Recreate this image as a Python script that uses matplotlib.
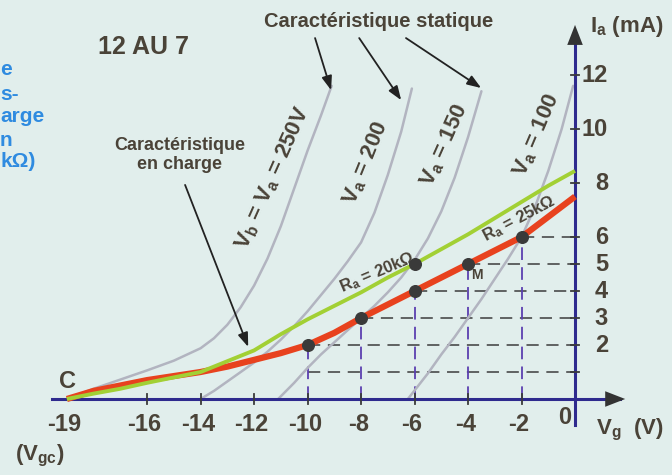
import numpy as np
import matplotlib
matplotlib.use('Agg')
import matplotlib.pyplot as plt

# tube 12AU7: static characteristics Ia(Vg) and load lines
va250_vg = [-19, -18, -17, -16, -15, -14, -13.5, -13, -12.5, -12, -11.5, -11, -10.5, -10, -9.5, -9.1]
va250_ia = [0, 0.38, 0.72, 1.06, 1.42, 1.88, 2.25, 2.75, 3.4, 4.2, 5.2, 6.4, 7.8, 9.2, 10.5, 11.6]

va200_vg = [-14, -13.5, -13, -12.5, -12, -11.5, -11, -10.5, -10, -9.5, -9, -8.5, -8, -7.5, -7, -6.5, -6.1]
va200_ia = [0, 0.3, 0.65, 1.0, 1.35, 1.75, 2.2, 2.7, 3.25, 3.85, 4.45, 5.1, 5.8, 6.9, 8.3, 9.9, 11.5]

va150_vg = [-11.1, -10.5, -10, -9.5, -9, -8.5, -8, -7.5, -7, -6.5, -6, -5.5, -5, -4.5, -4, -3.5]
va150_ia = [0, 0.6, 1.15, 1.65, 2.1, 2.55, 3.0, 3.45, 3.95, 4.5, 5.15, 5.95, 6.95, 8.2, 9.7, 11.4]

va100_vg = [-6.25, -5.5, -5, -4.5, -4, -3.5, -3, -2.5, -2, -1.5, -1, -0.5, -0.07]
va100_ia = [0, 0.95, 1.65, 2.3, 3.0, 3.7, 4.45, 5.2, 6.0, 7.1, 8.45, 10.0, 11.6]

# load characteristic Ra = 25 kOhm (red) and Ra = 20 kOhm (green)
r25_vg = [-19, -18, -17, -16, -15, -14, -13, -12, -11, -10, -9, -8, -7, -6, -5, -4, -3, -2, -1, 0]
r25_ia = [0, 0.3, 0.5, 0.7, 0.85, 1.0, 1.2, 1.45, 1.7, 2.0, 2.45, 3.0, 3.5, 4.0, 4.5, 5.0, 5.5, 6.0, 6.75, 7.5]

r20_vg = [-19, -18, -17, -16, -15, -14, -13, -12, -11, -10, -9, -8, -7, -6, -5, -4, -3, -2, -1, 0]
r20_ia = [0, 0.2, 0.38, 0.6, 0.8, 1.0, 1.4, 1.8, 2.4, 2.95, 3.45, 3.95, 4.5, 5.0, 5.55, 6.1, 6.7, 7.3, 7.9, 8.45]

# operating points on the 25k line, and the dashed reading lines
pts_vg = [-10, -8, -6, -4, -2]
pts_ia = [2, 3, 4, 5, 6]
green_pt = (-6, 5)

xticks = [-16, -14, -12, -10, -8, -6, -4, -2]
xlabels = ['-19', '-16', '-14', '-12', '-10', '-8', '-6', '-4', '-2']
xlabel_pos = [-19] + xticks
yticks = [1, 2, 3, 4, 5, 6, 8, 10, 12]
ylabels = [2, 3, 4, 5, 6, 8, 10, 12]

plt.rcParams['mathtext.fontset'] = 'custom'
plt.rcParams['mathtext.rm'] = 'Liberation Sans:bold'
plt.rcParams['mathtext.it'] = 'Liberation Sans:bold'
plt.rcParams['mathtext.bf'] = 'Liberation Sans:bold'

BG = '#e1eeec'
TXT = '#4a4338'
AXC = '#2e2a8e'

fig = plt.figure(figsize=(6.72, 4.75), dpi=100, facecolor=BG)
ax = fig.add_axes([0, 0, 1, 1])
ax.set_facecolor(BG)
ax.set_xlim(-21.5, 3.626)
ax.set_ylim(-2.815, 14.78)
ax.axis('off')

font = dict(family='Liberation Sans', weight='bold', color=TXT)

# dashed reading grid
dash = (0, (8, 5))
ax.plot([-10, 0], [1, 1], ls=dash, color='#3c3c3c', lw=1.1, zorder=2)
for v, i in zip(pts_vg, pts_ia):
    ax.plot([v, 0], [i, i], ls=dash, color='#3c3c3c', lw=1.1, zorder=2)
    ax.plot([v, v], [0, i], ls=(0, (7, 4)), color='#5b3fb0', lw=1.3, zorder=2)

# static characteristics
for vg, ia in [(va250_vg, va250_ia), (va200_vg, va200_ia),
               (va150_vg, va150_ia), (va100_vg, va100_ia)]:
    ax.plot(vg, ia, color='#b2b4c0', lw=1.8, zorder=3, solid_capstyle='round',
            solid_joinstyle='round')

# load characteristics
ax.plot(r25_vg, r25_ia, color='#e8421e', lw=4.5, zorder=4, solid_capstyle='butt')
ax.plot(r20_vg, r20_ia, color='#a2d034', lw=2.8, zorder=5, solid_capstyle='butt')

ax.scatter(pts_vg, pts_ia, s=70, color='#3a3a3a', zorder=6)
ax.scatter([green_pt[0]], [green_pt[1]], s=70, color='#3a3a3a', zorder=6)

# axes with arrows
ax.plot([-19.55, 1.7], [0, 0], color=AXC, lw=2.2, zorder=3)
ax.plot([0, 0], [-0.95, 13.4], color=AXC, lw=2.2, zorder=3)
arr = dict(arrowstyle='-|>,head_length=0.9,head_width=0.35', color='#333333',
           lw=0, mutation_scale=16)
ax.annotate('', xy=(1.98, 0), xytext=(1.2, 0), arrowprops=arr, zorder=7)
ax.annotate('', xy=(0, 13.96), xytext=(0, 13.1), arrowprops=arr, zorder=7)

for v in xticks:
    ax.plot([v, v], [-0.2, 0.2], color='#3a3a3a', lw=1.3, zorder=4)
for i in yticks:
    ax.plot([-0.15, 0.15], [i, i], color='#3a3a3a', lw=1.3, zorder=4)

for v, s in zip(xlabel_pos, xlabels):
    ax.text(v - 0.1, -0.93, s, ha='center', va='center', fontsize=17, **font)
ax.text(-0.37, -0.7, '0', ha='center', va='center', fontsize=17, **font)
for i in ylabels:
    ax.text(1.23, i, str(i), ha='right', va='center', fontsize=17, **font)

ax.text(1.94, 13.8, 'I$_a$ (mA)', ha='center', va='center', fontsize=16, **font)
ax.text(0.79, -1.15, 'V$_g$  (V)', ha='left', va='center', fontsize=16, **font)
ax.text(-20.0, -2.1, '(V$_{gc}$)', ha='center', va='center', fontsize=16, **font)
ax.text(-18.99, 0.63, 'C', ha='center', va='center', fontsize=17, **font)

ax.text(-16.15, 13.04, '12 AU 7', ha='center', va='center', fontsize=18, **font)
ax.text(-7.33, 14.0, 'Caractéristique statique', ha='center', va='center',
        fontsize=14.5, **font)
ax.text(-14.77, 9.04, 'Caractéristique\nen charge', ha='center', va='center',
        fontsize=13, linespacing=1.1, **font)

# curve names
ax.text(-11.29, 8.19, 'V$_b$ = V$_a$ = 250V', rotation=66, ha='center',
        va='center', fontsize=16, **font)
ax.text(-7.81, 8.74, 'V$_a$ = 200', rotation=68, ha='center', va='center',
        fontsize=16, **font)
ax.text(-4.86, 9.41, 'V$_a$ = 150', rotation=66, ha='center', va='center',
        fontsize=16, **font)
ax.text(-1.42, 9.78, 'V$_a$ = 100', rotation=67, ha='center', va='center',
        fontsize=16, **font)
ax.text(-7.40, 4.67, 'R$_a$ = 20kΩ', rotation=23, ha='center', va='center',
        fontsize=12, **font)
ax.text(-2.09, 6.67, 'R$_a$ = 25kΩ', rotation=28, ha='center', va='center',
        fontsize=12, **font)
ax.text(-3.66, 4.59, 'M', ha='center', va='center', fontsize=10, **font)

# pointer arrows
parr = dict(arrowstyle='-|>,head_length=0.6,head_width=0.22', color='#222222',
            lw=1.3, mutation_scale=14, shrinkA=0, shrinkB=0)
for (x1, y1), (x2, y2) in [((-9.72, 13.37), (-9.12, 11.44)),
                           ((-8.07, 13.37), (-6.50, 11.07)),
                           ((-6.32, 13.37), (-3.51, 11.52)),
                           ((-14.58, 7.93), (-12.22, 1.93))]:
    ax.annotate('', xy=(x2, y2), xytext=(x1, y1), arrowprops=parr, zorder=7)

# cut-off blue caption on the left edge
blue = dict(family=['Liberation Sans', 'DejaVu Sans'], weight='bold', color='#2f8be0')
for s, i in zip(['e', 's-', 'arge', 'n', 'kΩ)'], [12.0, 11.07, 10.26, 9.37, 8.59]):
    ax.text(-21.5, i, s, ha='left', va='baseline', fontsize=15, **blue)

fig.savefig('out.png', dpi=100, facecolor=BG)
